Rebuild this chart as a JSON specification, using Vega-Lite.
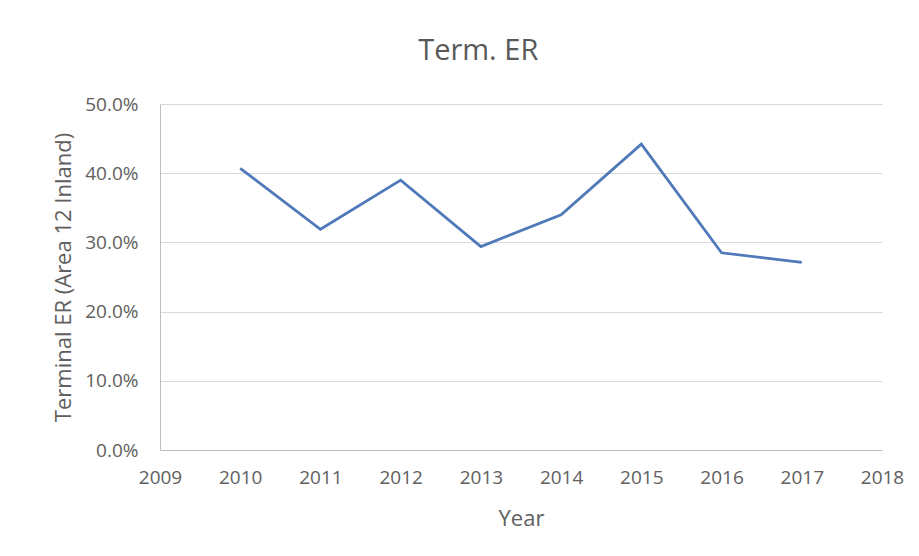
{
  "$schema": "https://vega.github.io/schema/vega-lite/v6.json",
  "autosize": {"type": "none"},
  "width": 722,
  "height": 346,
  "padding": {"left": 160, "top": 104, "right": 37, "bottom": 106},
  "background": "white",
  "title": {
    "text": "Term. ER",
    "font": "Open Sans",
    "fontSize": 29,
    "fontWeight": "normal",
    "color": "#595959",
    "offset": 29,
    "anchor": "middle",
    "frame": "bounds"
  },
  "config": {
    "view": {"stroke": null},
    "font": "Open Sans"
  },
  "data": {
    "values": [
      {"Year": 2010, "ER": 0.407},
      {"Year": 2011, "ER": 0.319},
      {"Year": 2012, "ER": 0.390},
      {"Year": 2013, "ER": 0.294},
      {"Year": 2014, "ER": 0.340},
      {"Year": 2015, "ER": 0.442},
      {"Year": 2016, "ER": 0.285},
      {"Year": 2017, "ER": 0.271}
    ]
  },
  "mark": {"type": "line", "color": "#5079ba", "strokeWidth": 2.8},
  "encoding": {
    "x": {
      "field": "Year",
      "type": "quantitative",
      "scale": {"domain": [2009, 2018], "nice": false, "zero": false},
      "axis": {
        "title": "Year",
        "format": "d",
        "values": [2009, 2010, 2011, 2012, 2013, 2014, 2015, 2016, 2017, 2018],
        "grid": false,
        "ticks": false,
        "domainColor": "#bfbfbf",
        "domainWidth": 1,
        "labelFont": "Open Sans",
        "labelFontSize": 19,
        "labelColor": "#606060",
        "labelPadding": 18,
        "labelFlush": false,
        "titleFont": "Open Sans",
        "titleFontSize": 22,
        "titleFontWeight": "normal",
        "titleColor": "#606060",
        "titlePadding": 21
      }
    },
    "y": {
      "field": "ER",
      "type": "quantitative",
      "scale": {"domain": [0, 0.5], "nice": false},
      "axis": {
        "title": "Terminal ER (Area 12 Inland)",
        "format": ".1%",
        "values": [0, 0.1, 0.2, 0.3, 0.4, 0.5],
        "grid": true,
        "gridColor": "#d9d9d9",
        "gridWidth": 1,
        "ticks": false,
        "domainColor": "#bfbfbf",
        "domainWidth": 1,
        "labelFont": "Open Sans",
        "labelFontSize": 19,
        "labelColor": "#606060",
        "labelPadding": 22,
        "labelFlush": false,
        "titleFont": "Open Sans",
        "titleFontSize": 22,
        "titleFontWeight": "normal",
        "titleColor": "#606060",
        "titlePadding": 9
      }
    }
  }
}
